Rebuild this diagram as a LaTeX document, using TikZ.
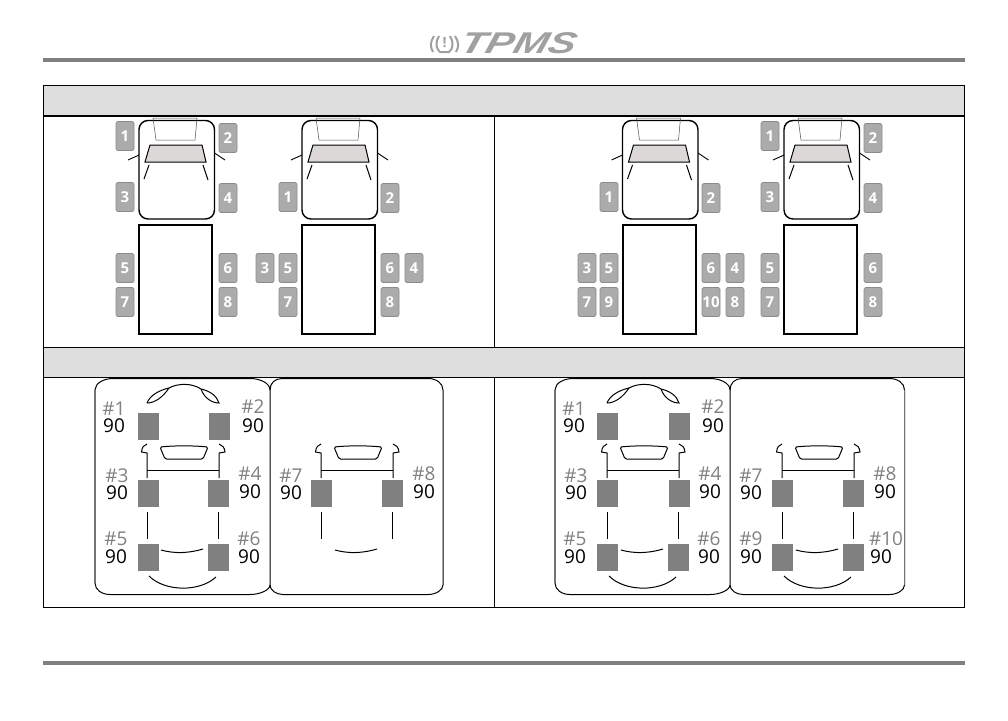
\documentclass[tikz,border=0pt]{standalone}
\usepackage{fontspec}
\setmainfont{Open Sans}
\newfontfamily\logofont{Liberation Sans}

\definecolor{rulegray}{HTML}{808080}
\definecolor{bandgray}{HTML}{DEDEDE}
\definecolor{taggray}{HTML}{ABABAB}
\definecolor{glassgray}{HTML}{DCD8D8}
\definecolor{logogray}{HTML}{A0A0A0}

\tikzset{
    tag/.style={fill=taggray,draw=black!45,line width=0.7pt,rounded corners=2pt,minimum width=18pt,minimum height=29pt,inner sep=0pt,text=white,font=\fontsize{15}{15}\selectfont\bfseries},
    wheel/.style={fill=rulegray,minimum width=21pt,minimum height=27pt,inner sep=0pt},
    idlabel/.style={text=rulegray,inner sep=0pt,font=\fontsize{19}{19}\selectfont},
    psilabel/.style={text=black,inner sep=0pt,font=\fontsize{19}{19}\selectfont},
    % top view of the cab, for the upper row
    pics/cabtop/.style={code={
        \draw[line width=1.4pt,rounded corners=9pt] (139,120.5) rectangle (214.5,219);
        \draw[line width=0.5pt,black!70] (153,118) -- (156,140) -- (195,140) -- (197,118) -- cycle;
        \draw[line width=1pt,fill=glassgray] (150,145) -- (202,145) -- (206,162) -- (145,162) -- cycle;
        \draw[line width=1pt] (149,165) -- (144,179);
        \draw[line width=1pt] (203,165) -- (208,180);
        \draw[line width=0.9pt] (139,155) -- (128,160);
        \draw[line width=0.9pt] (214.5,153) -- (225,160);
        \draw[line width=2pt] (139,225) rectangle (212,334);
    }},
    % window, wings and axle bar, used for cab and for trailer
    pics/rearpart/.style={code={
        \draw[line width=1pt,rounded corners=1.5pt] (160,447) .. controls (175,445.5) and (193,445.5) .. (208,447) -- (203,459) -- (165,459) -- cycle;
        \draw[line width=1pt] (147,444) .. controls (144,445) and (142,447) .. (141.5,452) -- (147,453) -- (147,478);
        \draw[line width=1pt] (219,444) .. controls (222,445) and (224.5,447) .. (225,452) -- (219,453) -- (219,478);
        \draw[line width=1pt] (147,470) -- (219,470);
        \draw[line width=1pt] (147,512) -- (147,539);
        \draw[line width=1pt] (218,512) -- (218,539);
        \draw[line width=1pt] (161,550) .. controls (175,554) and (190,553) .. (203,549);
    }},
    % front of the cab, for the lower row
    pics/cabnose/.style={code={
        \draw[line width=1pt] (147,403) .. controls (150,395) and (160,390) .. (169,388) .. controls (178,383) and (192,383) .. (201,389) .. controls (210,391) and (217,396) .. (219,403) .. controls (212,403) and (204,398) .. (201,389);
        \draw[line width=1pt] (147,403) .. controls (155,403) and (163,397) .. (169,388);
    }},
    pics/tailarc/.style={code={
        \draw[line width=1pt] (149,576) .. controls (165,592) and (200,592) .. (216,577);
    }},
    % outlines of cab and trailer in the lower row, argument is the right edge
    pics/outlines/.style={code={
        \draw[line width=1pt] (95,390) .. controls (95,383) and (104,378.5) .. (113,378.5) -- (250,378.5) .. controls (260,378.5) and (270,383) .. (270,390) -- (270,585) .. controls (270,590) and (260,594.5) .. (250,594.5) -- (110,594.5) .. controls (102,594.5) and (95,590) .. (95,583);
        \draw[line width=1pt] (270,390) .. controls (270,383) and (275,378.5) .. (282,378.5) -- ({#1-15},378.5) .. controls ({#1-7},378.5) and (#1,383) .. (#1,390) -- (#1,585) .. controls (#1,590) and ({#1-7},594.5) .. ({#1-15},594.5) -- (283,594.5) .. controls (276,594.5) and (270,590) .. (270,585);
        \draw[line width=1.3pt,black!55] (95,390) -- (95,583);
    }}
}

\begin{document}
\begin{tikzpicture}[x=1pt,y=-1pt]
    \useasboundingbox (0,0) rectangle (1008,720);

    % page rules and logo
    \fill[rulegray] (43,57.5) rectangle (965,61.5);
    \fill[rulegray] (43,661) rectangle (965,665);
    \node[text=logogray,inner sep=0pt,xscale=1.38,xslant=0.2,font=\fontsize{30}{30}\logofont\bfseries\itshape] (logo) at (519,43.5) {TPMS};
    \draw[logogray,line width=2pt] (439,36) .. controls (435,42) and (436,49) .. (440,52) -- (449,52) .. controls (453,49) and (454,42) .. (450,36);
    \draw[logogray,line width=2pt] (434,36) .. controls (430,42) and (430,47) .. (433,52);
    \draw[logogray,line width=2pt] (455,36) .. controls (459,42) and (459,47) .. (456,52);
    \node[text=logogray,inner sep=0pt,font=\fontsize{14}{14}\selectfont\bfseries] (mark) at (444.5,43) {!};

    % table
    \fill[bandgray] (43,85) rectangle (964.5,115);
    \fill[bandgray] (43,347) rectangle (964.5,377);
    \draw[line width=0.8pt] (43,85) rectangle (964.5,607);
    \draw[line width=2pt] (43,116) -- (964.5,116);
    \draw[line width=0.8pt] (43,347) -- (964.5,347);
    \draw[line width=1.4pt] (43,377.5) -- (964.5,377.5);
    \draw[line width=0.8pt] (494.5,116) -- (494.5,347);
    \draw[line width=0.8pt] (494.5,377) -- (494.5,607);

    % upper row
    \foreach \x in {0,163,483.5,645}{
        \pic at (\x,0) {cabtop};
    }
    \foreach \x/\y/\n in {125/136/1,228/138/2,125/197/3,228/198/4,125/268/5,228/268/6,125/302/7,228/302/8}{
        \node[tag] (a\n) at (\x,\y) {\n};
    }
    \foreach \x/\y/\n in {288/197/1,390/198/2,265/268/3,288/268/5,390/268/6,414/268/4,288/302/7,390/302/8}{
        \node[tag] (b\n) at (\x,\y) {\n};
    }
    \foreach \x/\y/\n in {609/197/1,711/198/2,587/268/3,609/268/5,711/268/6,735/268/4,587/302/7,609/302/9,711/302/10,735/302/8}{
        \node[tag] (c\n) at (\x,\y) {\n};
    }
    \foreach \x/\y/\n in {770/136/1,873/138/2,770/197/3,873/198/4,770/268/5,873/268/6,770/302/7,873/302/8}{
        \node[tag] (d\n) at (\x,\y) {\n};
    }

    % lower row
    \pic at (0,0) {outlines=443};
    \pic at (460,0) {outlines=444.5};
    \foreach \x in {0,174,460,635}{
        \pic at (\x,0) {rearpart};
    }
    \foreach \x in {0,460}{
        \pic at (\x,0) {cabnose};
    }
    \foreach \x in {0,460,635}{
        \pic at (\x,0) {tailarc};
    }
    \draw[line width=1pt,black!55] (904.5,390) -- (904.5,585);

    % wheels
    \foreach \x/\y/\n in {148/426/1,219/426/2,148/493/3,218/493/4,148/557/5,218/557/6,321/493/7,392/493/8}{
        \node[wheel] (e\n) at (\x,\y) {};
    }
    \foreach \x/\y/\n in {607/426/1,679/426/2,607/493/3,679/493/4,607/557/5,678/557/6,782/493/7,853/493/8,782/557/9,853/557/10}{
        \node[wheel] (f\n) at (\x,\y) {};
    }

    % labels: x, y of id, y of value
    \foreach \x/\y/\v/\n in {114/409/426/1,253/407/426/2,117/476/493/3,250/474/492/4,116/539/557/5,249/539/557/6,291/476/493/7,424/474/492/8}{
        \node[idlabel] (g\n) at (\x,\y) {\#\n};
        \node[psilabel] (p\n) at (\x,\v) {90};
    }
    \foreach \x/\y/\v/\n in {574/409/426/1,713/407/426/2,576/476/493/3,710/474/492/4,575/539/557/5,709/539/557/6,751/476/493/7,885/474/492/8,751/539/557/9}{
        \node[idlabel] (h\n) at (\x,\y) {\#\n};
        \node[psilabel] (q\n) at (\x,\v) {90};
    }
    \node[idlabel] (h10) at (886,539) {\#10};
    \node[psilabel] (q10) at (881,557) {90};
\end{tikzpicture}
\end{document}
